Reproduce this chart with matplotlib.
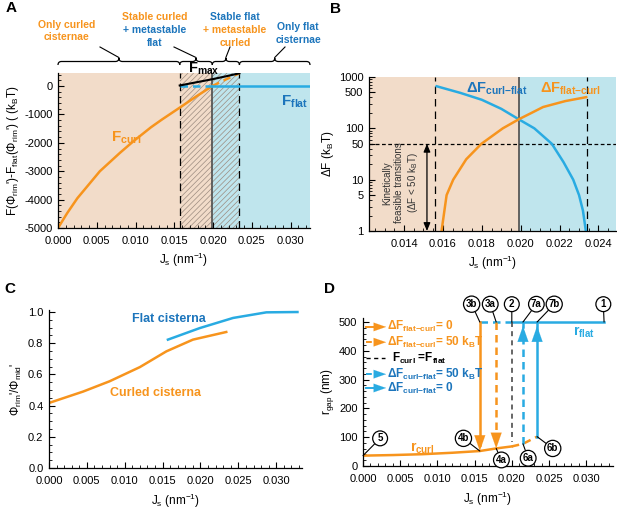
import matplotlib
matplotlib.use("Agg")
import matplotlib.pyplot as plt
import numpy as np
from matplotlib.path import Path
from matplotlib.patches import PathPatch
from matplotlib.ticker import MultipleLocator, FixedLocator, FormatStrFormatter, NullFormatter, LogLocator

plt.rcParams["font.family"] = ["Liberation Sans", "DejaVu Sans"]
plt.rcParams["mathtext.fontset"] = "custom"
plt.rcParams["mathtext.rm"] = "Liberation Sans"
plt.rcParams["mathtext.it"] = "Liberation Sans:italic"
plt.rcParams["mathtext.bf"] = "Liberation Sans:bold"
plt.rcParams["axes.unicode_minus"] = False
plt.rcParams["hatch.linewidth"] = 0.5
plt.rcParams["hatch.color"] = "#9c8c80"

ORANGE = "#f7941d"
CYAN = "#29abe2"
BLUE = "#1c75bc"
PEACH = "#f2dcc9"
ICE = "#bfe5ed"
GREY = "#4d4d4d"

TICK_FS = 8
LABEL_FS = 8.5

# region boundaries (nm^-1)
J_LOW = 0.0157
J_EQ = 0.0199
J_HIGH = 0.0234

# panel A: free energy difference
J_a = np.array([0.0, 0.0012, 0.0025, 0.0054, 0.0080, 0.0097, 0.0120, 0.0134, 0.0157, 0.0178, 0.0199, 0.0217, 0.0234])
F_curl = np.array([-5000, -4470, -3950, -3000, -2350, -1950, -1450, -1180, -760, -370, 0, 240, 450])
J_fflat = np.array([0.0157, 0.0199, 0.0325])
F_flat = np.array([0, 0, 0])
J_fmax = np.array([0.0157, 0.0174, 0.0198, 0.0216, 0.0234])
F_max = np.array([20, 110, 235, 340, 450])

# panel B: barriers
J_cf = np.array([0.01568, 0.0169, 0.0180, 0.0190, 0.0199, 0.0207, 0.0216, 0.0222, 0.0227, 0.0230, 0.0232, 0.02335])
dF_cf = np.array([660, 490, 360, 240, 150, 100, 50, 22, 10, 5, 2.5, 1])
J_fc = np.array([0.01593, 0.01619, 0.01653, 0.0172, 0.01798, 0.01908, 0.0199, 0.0205, 0.02115, 0.0223, 0.02337])
dF_fc = np.array([1, 5, 10, 25, 50, 100, 150, 195, 260, 340, 405])
B_CUT = 50

# panel C: rim / middle ratio
J_c_curl = np.array([0.0, 0.0045, 0.0080, 0.0120, 0.0155, 0.0190, 0.0234])
ratio_curl = np.array([0.417, 0.49, 0.556, 0.647, 0.748, 0.823, 0.872])
J_c_flat = np.array([0.0157, 0.0199, 0.0243, 0.0287, 0.0328])
ratio_flat = np.array([0.823, 0.897, 0.962, 0.998, 1.0])

# panel D: rim gap
J_d = np.array([0.0, 0.004, 0.008, 0.012, 0.0157, 0.0179, 0.0200, 0.0215, 0.0234])
r_curl = np.array([36, 38, 41, 46, 52, 61, 68, 77, 102])
J_dflat = np.array([0.0157, 0.0200, 0.0324])
r_flat = np.array([500, 500, 500])
J_fc0, J_fc50, J_cf50, J_cf0 = 0.0157, 0.0179, 0.0215, 0.0234
top_labels = ["3b", "3a", "2", "7a", "7b", "1"]
top_targets = [0.0157, 0.0179, 0.0200, 0.0215, 0.0234, 0.0324]
top_x = [0.0146, 0.0171, 0.0200, 0.0233, 0.0257, 0.0323]
bot_labels = ["5", "4b", "4a", "6a", "6b"]
bot_targets = [(0.0, 36), (0.0157, 52), (0.0179, 61), (0.0215, 77), (0.0234, 102)]
bot_pos = [(0.0023, 96), (0.0135, 96), (0.0186, 21), (0.0222, 27), (0.0255, 61)]

W, H = 617, 512
fig = plt.figure(figsize=(W / 100, H / 100), dpi=100)


def fbox(l, t, r, b):
    return [l / W, 1 - b / H, (r - l) / W, (b - t) / H]


def fxy(x, y):
    return (x / W, 1 - y / H)


def style(ax, xmaj, xmin, ymaj, ymin):
    for s in ("top", "right"):
        ax.spines[s].set_visible(False)
    for s in ("left", "bottom"):
        ax.spines[s].set_linewidth(0.9)
    ax.xaxis.set_major_locator(MultipleLocator(xmaj))
    ax.xaxis.set_minor_locator(MultipleLocator(xmin))
    if ymaj:
        ax.yaxis.set_major_locator(MultipleLocator(ymaj))
        ax.yaxis.set_minor_locator(MultipleLocator(ymin))
    ax.tick_params(which="major", direction="in", length=4, width=0.8, labelsize=TICK_FS)
    ax.tick_params(which="minor", direction="in", length=2, width=0.6)
    ax.tick_params(axis="x", which="major", pad=6)
    ax.tick_params(axis="y", which="major", pad=4)


def head(ax, x, y, dx, dy, color, ms=9):
    # arrow head with its tip at (x, y), pointing along (dx, dy)
    ax.annotate("", xy=(x, y), xytext=(x - dx, y - dy),
                arrowprops=dict(arrowstyle="-|>,head_length=0.8,head_width=0.28", color=color,
                                lw=0.1, shrinkA=0, shrinkB=0, mutation_scale=ms),
                annotation_clip=False)


def brace(x0, x1, y, h=3.5):
    xm = (x0 + x1) / 2
    verts = [(x0, y + h), (x0, y), (x0 + h, y), (xm - h, y), (xm, y), (xm, y - h),
             (xm, y), (xm + h, y), (x1 - h, y), (x1, y), (x1, y + h)]
    codes = [Path.MOVETO, Path.CURVE3, Path.CURVE3, Path.LINETO, Path.CURVE3, Path.CURVE3,
             Path.CURVE3, Path.CURVE3, Path.LINETO, Path.CURVE3, Path.CURVE3]
    path = Path([fxy(*v) for v in verts], codes)
    fig.patches.append(PathPatch(path, fill=False, lw=0.9, ec="black", transform=fig.transFigure))


# ---------------- A ----------------
axA = fig.add_axes(fbox(58, 73, 310, 228))
xA = (0, 0.0325)
axA.axvspan(0, J_EQ, facecolor=PEACH, lw=0)
axA.axvspan(J_EQ, xA[1], facecolor=ICE, lw=0)
axA.axvspan(J_LOW, J_HIGH, fill=False, hatch="//////", edgecolor="#9c8c80", lw=0)
axA.axvline(J_LOW, color="black", ls=(0, (6, 4)), lw=0.9)
axA.axvline(J_HIGH, color="black", ls=(0, (6, 4)), lw=0.9)
axA.axvline(J_EQ, color=GREY, lw=1.2)
stable = J_a <= J_EQ
axA.plot(J_a[stable], F_curl[stable], color=ORANGE, lw=1.8)
axA.plot(J_a[J_a >= J_EQ], F_curl[J_a >= J_EQ], color=ORANGE, lw=1.8, ls=(0, (3, 2)))
axA.plot(J_fflat[:2], F_flat[:2], color=CYAN, lw=1.8, ls=(0, (3, 2)))
axA.plot(J_fflat[1:], F_flat[1:], color=CYAN, lw=1.8)
axA.plot(J_fmax, F_max, color="black", lw=1.5)
axA.set_xlim(*xA)
axA.set_ylim(-5000, 460)
style(axA, 0.005, 0.001, 1000, 200)
axA.xaxis.set_major_formatter(FormatStrFormatter("%.3f"))
axA.set_xlabel(r"J$_\mathrm{s}$ (nm$^{-1}$)", fontsize=LABEL_FS, labelpad=3)
axA.set_ylabel(r"F($\Phi_\mathrm{rim}$')-F$_\mathrm{flat}$($\Phi_\mathrm{rim}$') ( (k$_\mathrm{B}$T)",
               fontsize=LABEL_FS, labelpad=2)
axA.text(0.0068, -1830, r"F$_{\mathbf{curl}}$", color=ORANGE, fontsize=11, fontweight="bold", va="center")
axA.text(0.0288, -560, r"F$_{\mathbf{flat}}$", color=BLUE, fontsize=11, fontweight="bold", va="center")
axA.text(0.0168, 620, r"F$_{\mathbf{max}}$", color="black", fontsize=10.5, fontweight="bold", va="center", clip_on=False)

# braces over panel A
bx = [axA.transData.transform((j, 0))[0] for j in (0, J_LOW, J_EQ, J_HIGH, xA[1])]
tips = []
for i in range(4):
    brace(bx[i], bx[i + 1], 61.5)
    tips.append((bx[i] + bx[i + 1]) / 2)
leader_ends = [(100, 47), (174, 47), (230, 47), (285, 47)]
for t, e in zip(tips, leader_ends):
    fig.add_artist(plt.Line2D([t / W, e[0] / W], [1 - 57.5 / H, 1 - e[1] / H], color="black", lw=0.8))
brace_text = [
    (67, [(25, "Only curled", ORANGE), (37, "cisternae", ORANGE)]),
    (155, [(17, "Stable curled", ORANGE), (30, "+ metastable", BLUE), (43, "flat", BLUE)]),
    (235, [(17, "Stable flat", BLUE), (30, "+ metastable", ORANGE), (43, "curled", ORANGE)]),
    (298, [(27, "Only flat", BLUE), (40, "cisternae", BLUE)]),
]
for cx, rows in brace_text:
    for y, s, c in rows:
        fig.text(cx / W, 1 - y / H, s, color=c, fontsize=7.5, fontweight="bold", ha="center", va="center")

# ---------------- B ----------------
axB = fig.add_axes(fbox(369, 77, 616, 231))
xB = (0.0122, 0.0249)
axB.axvspan(xB[0], J_EQ, facecolor=PEACH, lw=0)
axB.axvspan(J_EQ, xB[1], facecolor=ICE, lw=0)
axB.axvline(0.0156, color="black", ls=(0, (6, 4)), lw=0.9)
axB.axvline(J_HIGH, color="black", ls=(0, (6, 4)), lw=0.9)
axB.axvline(J_EQ, color=GREY, lw=1.2)
axB.axhline(B_CUT, color="black", ls=(0, (3, 2)), lw=0.9)
axB.plot(J_cf, dF_cf, color=CYAN, lw=1.8)
axB.plot(J_fc, dF_fc, color=ORANGE, lw=1.8)
axB.set_yscale("log")
axB.set_xlim(*xB)
axB.set_ylim(1, 1000)
style(axB, 0.002, 0.0005, None, None)
axB.yaxis.set_major_locator(FixedLocator([1, 5, 10, 50, 100, 500, 1000]))
axB.yaxis.set_major_formatter(FormatStrFormatter("%d"))
axB.yaxis.set_minor_locator(LogLocator(subs=np.arange(2, 10)))
axB.yaxis.set_minor_formatter(NullFormatter())
axB.xaxis.set_major_formatter(FormatStrFormatter("%.3f"))
axB.set_xlabel(r"J$_\mathrm{s}$ (nm$^{-1}$)", fontsize=LABEL_FS, labelpad=3)
axB.set_ylabel(r"ΔF (k$_\mathrm{B}$T)", fontsize=LABEL_FS, labelpad=2)
axB.text(0.0172, 600, r"ΔF$_{\mathbf{curl{-}flat}}$", color=BLUE, fontsize=10.5, fontweight="bold", va="center")
axB.text(0.0210, 600, r"ΔF$_{\mathbf{flat{-}curl}}$", color=ORANGE, fontsize=10.5, fontweight="bold", va="center")
axB.annotate("", xy=(0.01518, 1), xytext=(0.01518, B_CUT),
             arrowprops=dict(arrowstyle="<|-|>,head_length=0.6,head_width=0.25", color="black", lw=0.9,
                             shrinkA=0, shrinkB=0, mutation_scale=8))
axB.text(0.01385, 8.6, "Kinetically\nfeasible transitions\n" + r"(ΔF < 50 k$_\mathrm{B}$T)",
         rotation=90, ha="center", va="center", multialignment="center", fontsize=7, color="#333333")

# ---------------- C ----------------
axC = fig.add_axes(fbox(49, 310, 302, 468))
axC.plot(J_c_curl, ratio_curl, color=ORANGE, lw=1.8)
axC.plot(J_c_flat, ratio_flat, color=CYAN, lw=1.8)
axC.set_xlim(0, 0.0334)
axC.set_ylim(0, 1.013)
style(axC, 0.005, 0.001, 0.2, 0.05)
axC.xaxis.set_major_formatter(FormatStrFormatter("%.3f"))
axC.yaxis.set_major_formatter(FormatStrFormatter("%.1f"))
axC.set_xlabel(r"J$_\mathrm{s}$ (nm$^{-1}$)", fontsize=LABEL_FS, labelpad=4)
axC.set_ylabel(r"$\Phi_\mathrm{rim}$'/$\Phi_\mathrm{mid}$'", fontsize=LABEL_FS, labelpad=3)
axC.text(0.0109, 0.958, "Flat cisterna", color=BLUE, fontsize=9, fontweight="bold", va="center")
axC.text(0.0081, 0.483, "Curled cisterna", color=ORANGE, fontsize=9, fontweight="bold", va="center")

# ---------------- D ----------------
axD = fig.add_axes(fbox(363, 318, 613, 466))
eq = J_d <= 0.0200
axD.plot(J_d[eq], r_curl[eq], color=ORANGE, lw=1.8)
axD.plot(J_d[J_d >= 0.0200], r_curl[J_d >= 0.0200], color=ORANGE, lw=1.8, ls=(0, (3, 2)))
axD.plot(J_dflat[:2], r_flat[:2], color=CYAN, lw=1.8, ls=(0, (3, 2)))
axD.plot(J_dflat[1:], r_flat[1:], color=CYAN, lw=1.8)
r_at = dict(zip(J_d, r_curl))
axD.plot([J_fc0, J_fc0], [500, r_at[J_fc0] + 20], color=ORANGE, lw=1.8)
head(axD, J_fc0, r_at[J_fc0], 0, -40, ORANGE, 14)
axD.plot([J_fc50, J_fc50], [500, r_at[J_fc50] + 20], color=ORANGE, lw=1.8, ls=(0, (3, 2)))
head(axD, J_fc50, r_at[J_fc50], 0, -40, ORANGE, 14)
axD.plot([0.0200, 0.0200], [500, 85], color=GREY, lw=1.2, ls=(0, (3, 2.5)))
axD.plot([J_cf50, J_cf50], [r_at[J_cf50], 470], color=CYAN, lw=1.8, ls=(0, (3, 2)))
axD.plot([J_cf50, J_cf50], [484, 500], color=CYAN, lw=1.8)
head(axD, J_cf50, 486, 0, 40, CYAN, 14)
axD.plot([J_cf0, J_cf0], [r_at[J_cf0], 500], color=CYAN, lw=1.8)
head(axD, J_cf0, 486, 0, 40, CYAN, 14)
axD.set_xlim(0, 0.0336)
axD.set_ylim(0, 514)
style(axD, 0.005, 0.001, 100, 20)
axD.xaxis.set_major_formatter(FormatStrFormatter("%.3f"))
axD.set_xlabel(r"J$_\mathrm{s}$ (nm$^{-1}$)", fontsize=LABEL_FS, labelpad=4)
axD.set_ylabel(r"r$_\mathrm{gap}$ (nm)", fontsize=LABEL_FS, labelpad=2)
axD.text(0.0282, 465, r"r$_{\mathbf{flat}}$", color=CYAN, fontsize=10, fontweight="bold", va="center")
axD.text(0.0063, 62, r"r$_{\mathbf{curl}}$", color=ORANGE, fontsize=10, fontweight="bold", va="center")

circ = dict(boxstyle="circle,pad=0.25", fc="white", ec="black", lw=0.9)
for lab, tx, tgt in zip(top_labels, top_x, top_targets):
    axD.annotate(lab, xy=(tgt, 500), xytext=(tx, 562), fontsize=7, fontweight="bold", ha="center", va="center",
                 bbox=circ, arrowprops=dict(arrowstyle="-", color="black", lw=0.8, shrinkA=0, shrinkB=0),
                 annotation_clip=False, zorder=6)
for lab, pos, tgt in zip(bot_labels, bot_pos, bot_targets):
    axD.annotate(lab, xy=tgt, xytext=pos, fontsize=7, fontweight="bold", ha="center", va="center",
                 bbox=circ, arrowprops=dict(arrowstyle="-", color="black", lw=0.8, shrinkA=0, shrinkB=0),
                 annotation_clip=False, zorder=6)

# legend of panel D
leg_rows = [
    (483, ORANGE, "-", r"ΔF$_{\mathbf{flat{-}curl}}$= 0", ORANGE, True),
    (430, ORANGE, (0, (3, 1.5, 1, 1.5)), r"ΔF$_{\mathbf{flat{-}curl}}$= 50 k$_{\mathbf{B}}$T", ORANGE, True),
    (375, "black", (0, (3, 2.5)), r"F$_{\mathbf{curl}}$ =F$_{\mathbf{flat}}$", "black", False),
    (319, CYAN, (0, (3, 1.5, 1, 1.5)), r"ΔF$_{\mathbf{curl{-}flat}}$= 50 k$_{\mathbf{B}}$T", BLUE, True),
    (271, CYAN, "-", r"ΔF$_{\mathbf{curl{-}flat}}$= 0", BLUE, True),
]
for y, lc, ls, txt, tc, arrow in leg_rows:
    x1 = 0.0024 if arrow else 0.0030
    axD.plot([0.0004, x1], [y, y], color=lc, ls=ls, lw=1.4 if arrow else 1.0)
    if arrow:
        head(axD, 0.0031, y, 0.0006, 0, lc, 11)
    axD.text(0.0032 if arrow else 0.0039, y, txt, color=tc, fontsize=8.5, fontweight="bold", va="center")

for lab, x, y in (("A", 11, 8), ("B", 336, 9), ("C", 10, 289), ("D", 330, 289)):
    fig.text(x / W, 1 - y / H, lab, fontsize=11, fontweight="bold", ha="center", va="center")

fig.savefig("out.png", dpi=100)
